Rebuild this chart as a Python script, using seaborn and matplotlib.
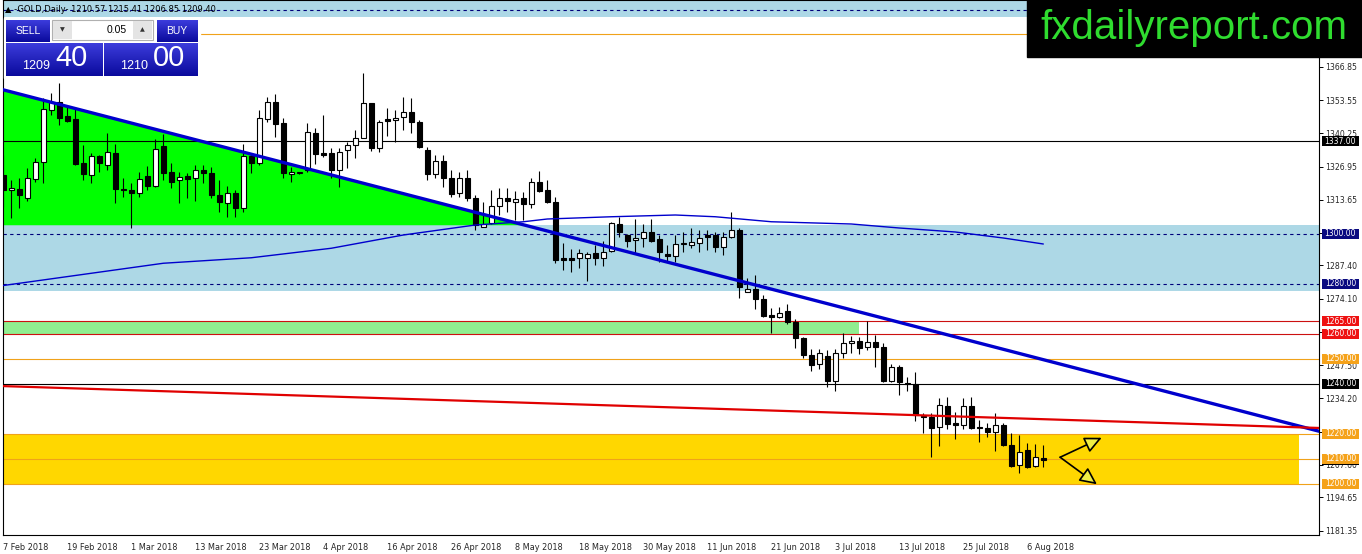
import numpy as np
import matplotlib
matplotlib.use("Agg")
import matplotlib.pyplot as plt
import seaborn as sns
from matplotlib.patches import Rectangle, Polygon, FancyArrowPatch
from matplotlib.colors import LinearSegmentedColormap

# daily GOLD candles, 7 Feb 2018 .. 8 Aug 2018
opens = [1323.6, 1317.6, 1318.0, 1314.4, 1322.0, 1328.8, 1349.6, 1352.8, 1347.2, 1346.0,
         1328.4, 1323.6, 1331.2, 1327.6, 1332.4, 1317.8, 1317.6, 1316.4, 1323.2, 1319.2,
         1335.2, 1324.8, 1321.6, 1323.2, 1322.4, 1325.6, 1324.4, 1315.6, 1312.4, 1316.4,
         1310.4, 1331.2, 1328.4, 1346.0, 1352.8, 1344.4, 1324.0, 1324.4, 1325.6, 1340.4,
         1332.4, 1332.4, 1325.6, 1333.6, 1335.6, 1338.4, 1352.4, 1334.4, 1346.0, 1345.6,
         1346.8, 1348.8, 1344.8, 1333.6, 1324.0, 1329.2, 1322.4, 1316.4, 1322.4, 1314.4,
         1302.8, 1304.4, 1311.2, 1314.4, 1312.8, 1314.4, 1312.0, 1320.8, 1317.6, 1312.8,
         1290.4, 1290.4, 1290.4, 1290.4, 1292.4, 1290.4, 1293.2, 1304.0, 1299.6, 1297.6,
         1298.4, 1300.8, 1298.0, 1292.0, 1291.2, 1296.0, 1295.6, 1296.4, 1299.6, 1299.6,
         1294.8, 1298.8, 1301.6, 1276.8, 1278.0, 1274.0, 1267.6, 1266.8, 1269.2, 1264.8,
         1258.4, 1251.6, 1248.0, 1251.2, 1241.2, 1252.4, 1256.4, 1257.2, 1254.8, 1256.8,
         1254.8, 1241.2, 1246.8, 1240.4, 1240.0, 1226.8, 1226.8, 1222.8, 1231.2, 1224.4,
         1223.6, 1231.2, 1222.8, 1222.4, 1220.8, 1223.6, 1215.6, 1207.6, 1213.6, 1207.2,
         1210.57]
highs = [1331.6, 1321.6, 1322.4, 1326.4, 1330.4, 1354.4, 1356.4, 1360.4, 1350.8, 1350.4,
         1335.6, 1332.4, 1331.6, 1340.4, 1336.0, 1322.4, 1320.4, 1324.8, 1327.2, 1338.0,
         1340.0, 1328.4, 1324.8, 1324.4, 1327.6, 1327.6, 1326.8, 1321.6, 1319.2, 1317.6,
         1336.0, 1332.4, 1349.6, 1354.8, 1356.0, 1346.4, 1326.8, 1324.8, 1344.4, 1342.4,
         1347.6, 1334.4, 1334.4, 1336.8, 1341.6, 1364.4, 1352.4, 1345.6, 1350.4, 1349.6,
         1354.8, 1354.4, 1345.6, 1334.8, 1331.6, 1331.6, 1325.6, 1324.8, 1325.6, 1315.6,
         1312.8, 1317.6, 1318.4, 1318.4, 1317.2, 1316.8, 1322.4, 1325.2, 1321.6, 1314.8,
         1296.4, 1294.0, 1294.0, 1292.8, 1295.6, 1297.2, 1304.8, 1306.8, 1300.0, 1306.0,
         1304.0, 1306.0, 1299.6, 1295.6, 1299.6, 1300.8, 1302.4, 1301.6, 1301.6, 1300.8,
         1300.8, 1308.8, 1302.4, 1282.4, 1283.6, 1275.6, 1270.4, 1270.8, 1272.0, 1266.0,
         1258.8, 1254.0, 1254.0, 1253.6, 1254.0, 1260.4, 1259.2, 1258.8, 1265.2, 1259.6,
         1256.4, 1248.0, 1247.6, 1242.8, 1244.8, 1228.4, 1228.4, 1234.4, 1234.8, 1228.8,
         1234.4, 1234.8, 1225.6, 1224.4, 1228.4, 1224.4, 1220.4, 1219.6, 1216.4, 1216.0,
         1215.41]
lows = [1310.8, 1306.4, 1310.4, 1313.2, 1320.8, 1320.4, 1347.6, 1343.6, 1344.8, 1327.6,
        1321.6, 1320.4, 1324.8, 1325.6, 1312.4, 1314.8, 1302.4, 1314.8, 1317.6, 1318.8,
        1321.6, 1318.4, 1312.4, 1314.4, 1313.2, 1320.4, 1314.4, 1308.8, 1306.8, 1306.8,
        1308.8, 1324.4, 1327.6, 1344.8, 1338.8, 1322.4, 1320.8, 1324.0, 1324.8, 1328.0,
        1330.8, 1322.4, 1318.8, 1326.4, 1330.4, 1338.4, 1333.2, 1332.8, 1339.2, 1336.8,
        1341.6, 1340.4, 1334.4, 1321.6, 1322.4, 1318.8, 1314.8, 1314.8, 1313.2, 1301.6,
        1302.8, 1304.0, 1307.6, 1308.8, 1305.6, 1305.6, 1310.4, 1316.8, 1312.4, 1288.4,
        1285.6, 1284.8, 1286.4, 1281.2, 1287.6, 1287.2, 1292.8, 1298.8, 1294.8, 1292.4,
        1294.8, 1296.8, 1288.8, 1288.8, 1288.8, 1292.8, 1294.4, 1292.8, 1293.6, 1292.8,
        1291.6, 1298.4, 1274.4, 1276.8, 1270.0, 1266.8, 1260.4, 1266.4, 1264.0, 1254.4,
        1250.4, 1245.2, 1246.0, 1238.8, 1237.2, 1250.4, 1252.4, 1252.0, 1253.6, 1246.8,
        1240.8, 1240.8, 1235.6, 1237.2, 1225.2, 1220.4, 1210.8, 1215.2, 1222.0, 1218.0,
        1222.0, 1222.0, 1216.8, 1218.8, 1213.2, 1215.2, 1206.8, 1204.4, 1206.4, 1206.8,
        1206.85]
closes = [1317.6, 1318.4, 1315.6, 1322.4, 1328.8, 1350.0, 1352.8, 1346.4, 1345.2, 1328.0,
          1324.0, 1331.2, 1328.4, 1332.8, 1318.0, 1317.6, 1316.4, 1322.0, 1319.2, 1334.0,
          1324.4, 1320.8, 1322.8, 1322.0, 1325.6, 1324.4, 1315.6, 1312.8, 1316.4, 1310.4,
          1331.2, 1328.4, 1346.4, 1352.8, 1344.0, 1324.4, 1324.8, 1324.5, 1340.8, 1332.0,
          1331.6, 1325.6, 1332.8, 1335.6, 1338.4, 1352.4, 1334.4, 1344.8, 1345.2, 1346.4,
          1348.8, 1344.8, 1334.8, 1324.0, 1329.2, 1322.4, 1316.0, 1322.4, 1314.4, 1303.6,
          1304.0, 1311.2, 1314.4, 1313.2, 1314.0, 1312.0, 1320.8, 1317.2, 1312.8, 1289.6,
          1289.6, 1289.6, 1292.4, 1292.0, 1290.4, 1292.8, 1304.4, 1300.8, 1297.2, 1298.4,
          1300.8, 1297.2, 1292.8, 1291.2, 1296.0, 1296.1, 1296.8, 1298.4, 1298.8, 1294.8,
          1298.8, 1301.6, 1278.8, 1278.0, 1274.0, 1267.2, 1266.8, 1268.4, 1264.8, 1258.4,
          1251.6, 1247.6, 1252.4, 1241.2, 1252.4, 1256.4, 1257.2, 1254.4, 1256.8, 1254.8,
          1241.2, 1246.8, 1240.8, 1240.0, 1227.6, 1226.7, 1222.4, 1231.6, 1224.0, 1223.6,
          1231.2, 1222.4, 1222.4, 1220.8, 1223.6, 1215.6, 1207.2, 1212.8, 1206.8, 1210.8,
          1209.40]

# moving average (thin blue line), read at some bars
ma_bars = [0, 20, 31, 41, 50, 59, 65, 68, 76, 84, 89, 96, 106, 112, 119, 125, 130]
ma_vals = [1279.4, 1288.3, 1290.5, 1294.3, 1299.6, 1303.6, 1304.9, 1306.0, 1306.9, 1307.6,
           1306.9, 1304.9, 1304.0, 1302.4, 1300.8, 1298.4, 1296.0]

date_labels = ["7 Feb 2018", "19 Feb 2018", "1 Mar 2018", "13 Mar 2018", "23 Mar 2018",
               "4 Apr 2018", "16 Apr 2018", "26 Apr 2018", "8 May 2018", "18 May 2018",
               "30 May 2018", "11 Jun 2018", "21 Jun 2018", "3 Jul 2018", "13 Jul 2018",
               "25 Jul 2018", "6 Aug 2018"]
date_ticks = list(range(0, 129, 8))

price_ticks = [1366.85, 1353.55, 1340.25, 1326.95, 1313.65, 1300.35, 1287.40, 1274.10,
               1260.80, 1247.50, 1234.20, 1220.90, 1207.60, 1194.65, 1181.35]
hidden_ticks = [1300.35, 1260.80, 1220.90]   # covered by the price tags

# horizontal levels: (price, colour, style)
levels = [(1389.4, "#00007a", "dash"), (1380.0, "#f0a21a", "solid"),
          (1337.0, "black", "solid"), (1300.0, "#00007a", "dash"), (1280.0, "#00007a", "dash"),
          (1265.0, "#cc1010", "solid"), (1260.0, "#cc1010", "solid"), (1250.0, "#f0a21a", "solid"),
          (1240.0, "black", "solid"), (1220.0, "#f0a21a", "solid"), (1210.0, "#f0a21a", "solid"),
          (1200.0, "#f0a21a", "solid")]

# price tags on the right scale
tags = [(1337.0, "black"), (1300.0, "#0a0a80"), (1280.0, "#0a0a80"), (1265.0, "#ee1111"),
        (1260.0, "#ee1111"), (1250.0, "#f5a21a"), (1240.0, "black"), (1220.0, "#f5a21a"),
        (1210.0, "#f5a21a"), (1200.0, "#f5a21a")]
last_price = 1209.40

# zones (price ranges)
top_zone = (1386.8, 1393.6)
blue_zone = (1277.3, 1303.5)
green_band = (1260.0, 1265.0, 106.9)
gold_zone = (1199.5, 1220.0, 161.9)

# trend lines (bar, price)
blue_trend = ([-0.41, 164.6], [1358.0, 1221.0])
red_trend = ([-0.41, 164.6], [1239.2, 1222.4])
green_tri = ([-0.41, 65.2, -0.41], [1358.0, 1303.5, 1303.5])

arrow_start = (132.1, 1210.7)
arrow_ends = [(137.3, 1218.5), (136.7, 1199.9)]

W, H = 1362, 554
sns.set_style("white")
plt.rcParams["font.family"] = ["DejaVu Sans"]

fig = plt.figure(figsize=(W / 100, H / 100), dpi=100)
ax = fig.add_axes([3 / W, (H - 535) / H, 1316 / W, 535 / H])
ax.set_xlim(-0.04, 164.46)
ax.set_ylim(1179.6, 1393.6)

x0, x1 = ax.get_xlim()
ax.axhspan(*top_zone, color="#add8e6", lw=0, zorder=0.5)
ax.axhspan(*blue_zone, color="#add8e6", lw=0, zorder=0.5)
ax.add_patch(Rectangle((x0, green_band[0]), green_band[2] - x0, green_band[1] - green_band[0],
                       color="#90ee90", lw=0, zorder=0.6))
ax.add_patch(Rectangle((x0, gold_zone[0]), gold_zone[2] - x0, gold_zone[1] - gold_zone[0],
                       color="#ffd700", lw=0, zorder=0.6))
ax.add_patch(Polygon(list(zip(*green_tri)), closed=True, color="#00ff00", lw=0, zorder=0.7))

for p, col, st in levels:
    ls = (0, (3, 3)) if st == "dash" else "-"
    ax.axhline(p, color=col, lw=0.8, ls=ls, zorder=1)

# candles
n = len(opens)
xs = np.arange(n)
o = np.array(opens)
c = np.array(closes)
ax.vlines(xs, lows, highs, color="black", lw=0.8, zorder=4)
body = np.maximum(np.abs(c - o), 0.3)
ax.bar(xs, body, bottom=np.minimum(o, c), width=0.55,
       color=np.where(c >= o, "white", "black"), edgecolor="black", linewidth=0.8, zorder=5)

sns.lineplot(x=ma_bars, y=ma_vals, ax=ax, color="#0000cd", lw=1.0, zorder=6)
ax.plot(*blue_trend, color="#0000cd", lw=2.4, zorder=7)
ax.plot(*red_trend, color="#e00000", lw=1.6, zorder=7)

for end in arrow_ends:
    ax.add_patch(FancyArrowPatch(arrow_start, end,
                                 arrowstyle="-|>,head_length=0.8,head_width=0.38",
                                 mutation_scale=13, shrinkA=0, shrinkB=0,
                                 fc="#f0ee44", ec="black", lw=1.2, zorder=8))

# axes
for s in ax.spines.values():
    s.set_color("black")
    s.set_linewidth(0.8)
ax.set_xticks(date_ticks)
ax.set_xticklabels(date_labels, ha="left", fontsize=5.9)
ax.yaxis.tick_right()
ax.set_yticks(price_ticks)
ax.set_yticklabels(["" if v in hidden_ticks else f"{v:.2f}" for v in price_ticks], fontsize=5.6)
ax.tick_params(axis="both", direction="out", length=3, width=0.7, color="black", pad=1.5)
ax.tick_params(axis="x", length=4)
ax.grid(False)
ax.set_xlabel("")
ax.set_ylabel("")

yt = ax.get_yaxis_transform()
# current price marker, mostly hidden under the 1210 tag
ax.add_patch(Rectangle((1.0023, last_price - 2.0), 0.0281, 4.0, transform=yt, color="black",
                       lw=0, clip_on=False, zorder=19))
for p, col in tags:
    ax.add_patch(Rectangle((1.0023, p - 2.0), 0.0281, 4.0, transform=yt, color=col,
                           lw=0, clip_on=False, zorder=20))
    ax.text(1.0163, p, f"{p:.2f}", transform=yt, ha="center", va="center", color="white",
            fontsize=5.5, clip_on=False, zorder=21)

# header line
fig.text(5 / W, 1 - 9 / H, "▲ -GOLD,Daily- 1210.57 1215.41 1206.85 1209.40",
         fontsize=6, color="black", va="center", ha="left", zorder=10)


def px_rect(xa, ya, xb, yb, **kw):
    fig.patches.append(Rectangle((xa / W, 1 - yb / H), (xb - xa) / W, (yb - ya) / H,
                                 transform=fig.transFigure, **kw))


def px_text(x, y, s, **kw):
    fig.text(x / W, 1 - y / H, s, **kw)


panel_cmap = LinearSegmentedColormap.from_list("panel", ["#3c3cdc", "#0a0a9c"])


def grad_box(xa, ya, xb, yb):
    a = fig.add_axes([xa / W, 1 - yb / H, (xb - xa) / W, (yb - ya) / H])
    a.imshow(np.linspace(0, 1, 64)[:, None], aspect="auto", cmap=panel_cmap, extent=(0, 1, 0, 1))
    a.set_axis_off()
    a.set_zorder(2)


# trade panel
px_rect(4, 18, 200, 78, color="white", zorder=1)
grad_box(6, 20, 50, 42)
grad_box(157, 20, 198, 42)
grad_box(6, 43, 102, 76)
grad_box(104, 43, 198, 76)
px_rect(52, 20, 153, 40, fc="white", ec="#b0b0b0", lw=0.8, zorder=3)
px_rect(53, 21, 72, 39, fc="#e4e4e4", ec="none", zorder=3)
px_rect(133, 21, 152, 39, fc="#e4e4e4", ec="none", zorder=3)
px_text(62, 30, "▼", fontsize=4.5, ha="center", va="center", color="#333333", zorder=4)
px_text(142, 30, "▲", fontsize=4.5, ha="center", va="center", color="#333333", zorder=4)
px_text(127, 30, "0.05", fontsize=7.5, ha="right", va="center", color="black",
        family="Liberation Sans", zorder=4)
px_text(28, 31, "SELL", fontsize=7.5, ha="center", va="center", color="white",
        family="Liberation Sans", zorder=4)
px_text(177, 31, "BUY", fontsize=7.5, ha="center", va="center", color="white",
        family="Liberation Sans", zorder=4)
px_text(36, 66, "1209", fontsize=9, ha="center", va="center", color="white",
        family="Liberation Sans", zorder=4)
px_text(71, 58, "40", fontsize=21, ha="center", va="center", color="white",
        family="Liberation Sans", zorder=4)
px_text(134, 66, "1210", fontsize=9, ha="center", va="center", color="white",
        family="Liberation Sans", zorder=4)
px_text(169, 58, "00", fontsize=21, ha="center", va="center", color="white",
        family="Liberation Sans", zorder=4)

# logo box
px_rect(1027, 0, 1362, 57, color="black", zorder=5)
px_text(1194, 28, "fxdailyreport.com", fontsize=29, ha="center", va="center",
        color="#2fdc2f", family="Liberation Sans", zorder=6)

fig.savefig("out.png", dpi=100)
